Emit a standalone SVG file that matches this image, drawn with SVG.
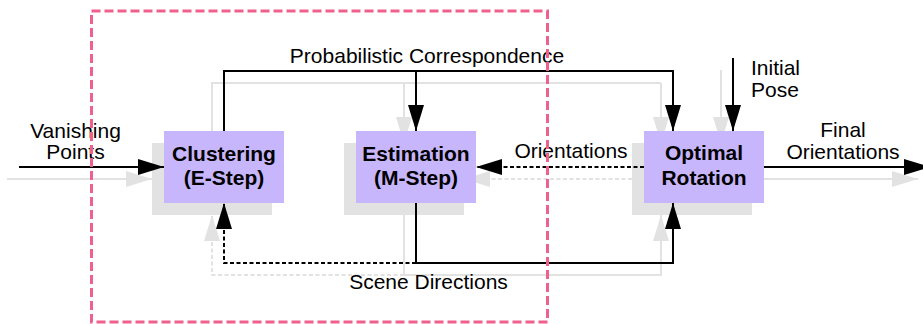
<svg xmlns="http://www.w3.org/2000/svg" width="923" height="324" viewBox="0 0 923 324">
<style>
  .txt{font-family:"Liberation Sans",Arial,Helvetica,sans-serif;font-size:21px;fill:#000}
  .bold{font-weight:bold}
  .mid{text-anchor:middle}
  .ln{fill:none;stroke:#000;stroke-width:2}
  .gl{fill:none;stroke:#e2e2e2;stroke-width:2}
  .dash{stroke-dasharray:4 2.5}
  .box{fill:#c8b6fd}
  .shadow{fill:#e2e2e2}
</style>
<defs>
  <marker id="ah" markerUnits="userSpaceOnUse" markerWidth="26" markerHeight="16" refX="26" refY="8" orient="auto" viewBox="0 0 26 16">
    <path d="M0,0 L26,8 L0,16 Z" fill="#000" stroke="none"/>
  </marker>
  <marker id="gah" markerUnits="userSpaceOnUse" markerWidth="26" markerHeight="16" refX="26" refY="8" orient="auto" viewBox="0 0 26 16">
    <path d="M0,0 L26,8 L0,16 Z" fill="#e2e2e2" stroke="none"/>
  </marker>
</defs>

<g id="ghosts">
  <rect class="shadow" x="152" y="143" width="120" height="72"/>
  <rect class="shadow" x="344" y="143" width="120" height="72"/>
  <rect class="shadow" x="632" y="143" width="120" height="72"/>
  <path class="gl" d="M212,143 V83 H661"/>
  <path class="gl" d="M404,83 V143" marker-end="url(#gah)"/>
  <path class="gl" d="M661,83 V143" marker-end="url(#gah)"/>
  <path class="gl" d="M721,70 V143" marker-end="url(#gah)"/>
  <path class="gl" d="M7,179 H152" marker-end="url(#gah)"/>
  <path class="gl dash" d="M632,179 H464" marker-end="url(#gah)"/>
  <path class="gl" d="M752,179 H918" marker-end="url(#gah)"/>
  <path class="gl" d="M404,215 V275 H661 V215" marker-end="url(#gah)"/>
  <path class="gl dash" d="M404,275 H212 V215" marker-end="url(#gah)"/>
</g>

<g id="connectors">
  <path class="ln" d="M224,131 V71 H673 V131" marker-end="url(#ah)"/>
  <path class="ln" d="M416,71 V131" marker-end="url(#ah)"/>
  <path class="ln" d="M733,58 V131" marker-end="url(#ah)"/>
  <path class="ln" d="M19,167 H164" marker-end="url(#ah)"/>
  <path class="ln dash" d="M644,167 H476" marker-end="url(#ah)"/>
  <path class="ln" d="M764,167 H930" marker-end="url(#ah)"/>
  <path class="ln" d="M416,203 V263 H673 V203" marker-end="url(#ah)"/>
  <path class="ln dash" d="M416,263 H224 V203" marker-end="url(#ah)"/>
  <text class="txt mid" x="427" y="63">Probabilistic Correspondence</text>
  <text class="txt mid" x="75.5" y="137.5">Vanishing</text>
  <text class="txt mid" x="75.5" y="159">Points</text>
  <text class="txt" x="751" y="75">Initial</text>
  <text class="txt" x="751" y="96.5">Pose</text>
  <text class="txt mid" x="843" y="137">Final</text>
  <text class="txt mid" x="843" y="158.5">Orientations</text>
  <text class="txt mid" x="571" y="158">Orientations</text>
  <text class="txt mid" x="428.5" y="289">Scene Directions</text>
</g>

<g id="clustering">
  <rect class="box" x="164" y="131" width="120" height="72"/>
  <text class="txt bold mid" x="224" y="161">Clustering</text>
  <text class="txt bold mid" x="224" y="185">(E-Step)</text>
</g>
<g id="estimation">
  <rect class="box" x="356" y="131" width="120" height="72"/>
  <text class="txt bold mid" x="416" y="161">Estimation</text>
  <text class="txt bold mid" x="416" y="185">(M-Step)</text>
</g>
<g id="optimal-rotation">
  <rect class="box" x="644" y="131" width="120" height="72"/>
  <text class="txt bold mid" x="704" y="160">Optimal</text>
  <text class="txt bold mid" x="704" y="185">Rotation</text>
</g>

<g id="em-region">
  <rect x="91.5" y="11" width="456" height="311" fill="none" stroke="#f0608c" stroke-width="3" stroke-dasharray="9 4"/>
</g>
</svg>
